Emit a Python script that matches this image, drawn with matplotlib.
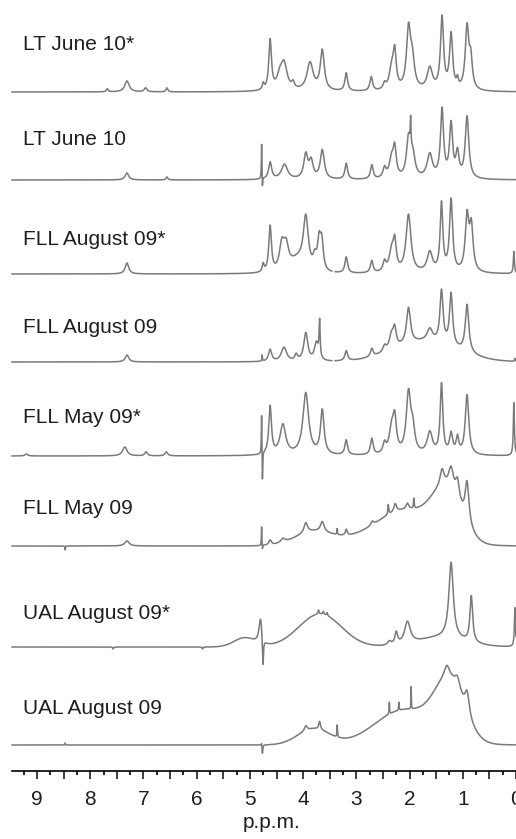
import numpy as np
import matplotlib
matplotlib.use('Agg')
import matplotlib.pyplot as plt
from matplotlib.ticker import MultipleLocator, FuncFormatter

plt.rcParams['font.family'] = ['Liberation Sans', 'DejaVu Sans']

# sample names, top to bottom
labels = ['LT June 10*', 'LT June 10', 'FLL August 09*', 'FLL August 09',
          'FLL May 09*', 'FLL May 09', 'UAL August 09*', 'UAL August 09']

# sharp lines: (ppm, height, half width)
peaks_lt_jun10s = [(7.68, 3, 0.02), (7.31, 11, 0.05), (6.96, 4, 0.03), (6.56, 4, 0.02),
                   (4.75, 6, 0.02), (4.62, 50, 0.03), (4.44, 12, 0.06), (4.36, 26, 0.07),
                   (4.19, 6, 0.03), (3.87, 28, 0.07), (3.64, 40, 0.045), (3.19, 18, 0.03),
                   (2.72, 14, 0.03), (2.47, 6, 0.03), (2.34, 20, 0.05), (2.28, 36, 0.035),
                   (2.02, 58, 0.045), (1.95, 28, 0.05), (1.62, 22, 0.06), (1.39, 72, 0.035),
                   (1.22, 55, 0.035), (1.10, 8, 0.02), (0.92, 62, 0.04), (0.85, 28, 0.035)]
peaks_lt_jun10 = [(7.31, 7, 0.04), (6.56, 3, 0.02), (4.78, 36, 0.006), (4.765, -12, 0.006),
                  (4.62, 17, 0.035), (4.35, 15, 0.07), (3.95, 24, 0.045), (3.85, 17, 0.045),
                  (3.64, 29, 0.045), (3.19, 16, 0.03), (2.71, 14, 0.03), (2.47, 10, 0.035),
                  (2.34, 18, 0.05), (2.28, 28, 0.035), (2.02, 38, 0.045), (1.98, 28, 0.008),
                  (1.94, 22, 0.05), (1.62, 24, 0.06), (1.39, 68, 0.035), (1.22, 53, 0.035),
                  (1.10, 24, 0.035), (0.92, 62, 0.04)]
peaks_fll_aug09s = [(7.31, 11, 0.04), (4.75, 8, 0.02), (4.62, 46, 0.03), (4.40, 26, 0.055),
                    (4.32, 22, 0.055), (3.95, 50, 0.055), (3.78, 12, 0.04), (3.70, 28, 0.035),
                    (3.65, 28, 0.035), (3.19, 16, 0.03), (2.71, 12, 0.03), (2.47, 10, 0.035),
                    (2.34, 20, 0.05), (2.28, 28, 0.035), (2.02, 58, 0.055), (1.62, 20, 0.06),
                    (1.40, 68, 0.03), (1.22, 72, 0.035), (0.92, 54, 0.04), (0.84, 44, 0.04),
                    (0.04, 22, 0.012)]
peaks_fll_aug09 = [(7.31, 7, 0.04), (4.77, 6, 0.006), (4.62, 12, 0.035), (4.36, 14, 0.06),
                   (4.13, 6, 0.03), (3.95, 28, 0.045), (3.75, 18, 0.045), (3.69, 36, 0.012),
                   (3.19, 10, 0.03), (2.71, 8, 0.03), (2.47, 6, 0.035), (2.34, 14, 0.05),
                   (2.28, 18, 0.035), (2.02, 36, 0.045), (1.62, 12, 0.06), (1.40, 52, 0.035),
                   (1.22, 52, 0.035), (0.92, 48, 0.04), (0.02, 3, 0.01)]
peaks_fll_may09s = [(9.20, 2, 0.03), (7.35, 9, 0.05), (6.95, 4, 0.03), (6.57, 4, 0.03),
                    (4.78, 42, 0.006), (4.765, -32, 0.006), (4.62, 48, 0.03), (4.38, 30, 0.065),
                    (3.95, 62, 0.065), (3.64, 44, 0.04), (3.19, 15, 0.03), (2.71, 16, 0.03),
                    (2.47, 10, 0.035), (2.34, 23, 0.05), (2.28, 33, 0.04), (2.02, 60, 0.05),
                    (1.94, 22, 0.045), (1.62, 22, 0.06), (1.40, 70, 0.03), (1.22, 20, 0.035),
                    (1.10, 16, 0.03), (0.92, 60, 0.04), (0.04, 53, 0.012)]
peaks_fll_may09 = [(8.47, -4, 0.004), (7.31, 5, 0.05), (4.78, 19, 0.005), (4.765, -5, 0.005),
                   (4.62, 5, 0.03), (4.38, 4, 0.05), (3.95, 10, 0.04), (3.64, 10, 0.04),
                   (3.36, 6, 0.006), (3.19, 6, 0.02), (2.70, 4, 0.03), (2.40, 10, 0.01),
                   (2.27, 8, 0.03), (2.04, 6, 0.03), (1.92, 10, 0.008), (1.39, 16, 0.045),
                   (1.22, 22, 0.055), (1.10, 20, 0.045), (0.92, 42, 0.045)]
peaks_ual_aug09s = [(7.57, -2, 0.01), (5.89, -2, 0.01), (4.80, 26, 0.035), (4.755, -30, 0.012),
                    (3.71, 4, 0.01), (3.62, 3, 0.01), (3.55, 3, 0.01), (2.38, 4, 0.04),
                    (2.25, 12, 0.03), (2.04, 22, 0.065), (1.22, 76, 0.05), (0.84, 46, 0.03),
                    (0.02, 39, 0.012)]
peaks_ual_aug09 = [(8.47, 2, 0.004), (4.78, 3, 0.008), (4.765, -9, 0.008), (3.95, 5, 0.03),
                   (3.69, 8, 0.02), (3.36, 12, 0.006), (2.38, 12, 0.006), (2.20, 8, 0.006),
                   (1.97, 22, 0.004), (1.30, 12, 0.06), (1.10, 12, 0.06), (0.92, 22, 0.05)]

# broad humps under the lines: (ppm, height, sigma)
humps_fll_aug09s = [(4.10, 12, 0.15)]
humps_fll_aug09 = [(1.70, 20, 0.6)]
humps_fll_may09 = [(1.30, 48, 0.28), (2.10, 35, 0.5), (3.80, 14, 0.35), (3.00, 5, 0.4)]
humps_ual_aug09s = [(5.10, 9, 0.2), (3.68, 33, 0.4), (1.40, 9, 0.45)]
humps_ual_aug09 = [(1.25, 55, 0.28), (2.10, 35, 0.55), (3.80, 16, 0.3)]

all_peaks = [peaks_lt_jun10s, peaks_lt_jun10, peaks_fll_aug09s, peaks_fll_aug09,
             peaks_fll_may09s, peaks_fll_may09, peaks_ual_aug09s, peaks_ual_aug09]
all_humps = [[], [], humps_fll_aug09s, humps_fll_aug09,
             [], humps_fll_may09, humps_ual_aug09s, humps_ual_aug09]
# cut-out region in two of the traces
gaps = [None, None, (3.40, 3.46), (3.40, 3.46), None, None, None, None]

# layout in figure pixels from the top
W, H = 516, 839
axis_y = 771
x_left = 12
label_base = [50, 145, 245, 333, 423, 514, 619, 714]
trace_base = [92, 180, 274, 362, 456, 546, 647, 745]

ppm = np.linspace(9.47, 0.0, 9000)


def spectrum(peaks, humps):
    y = np.zeros_like(ppm)
    for c, h, w in peaks:
        y += h * w ** 2 / ((ppm - c) ** 2 + w ** 2)
    for c, h, s in humps:
        y += h * np.exp(-(ppm - c) ** 2 / (2 * s ** 2))
    return y


fig = plt.figure(figsize=(W / 100, H / 100), dpi=100)
ax = fig.add_axes([x_left / W, (H - axis_y) / H, 1 - x_left / W, axis_y / H])
ax.set_xlim(9.47, 0.0)
ax.set_ylim(0, axis_y)

for i in range(len(labels)):
    y = spectrum(all_peaks[i], all_humps[i]) + (axis_y - trace_base[i])
    if gaps[i] is not None:
        y[(ppm > gaps[i][0]) & (ppm < gaps[i][1])] = np.nan
    ax.plot(ppm, y, color='#7a7a7a', lw=1.1, clip_on=False)
    fig.text(23 / W, 1 - label_base[i] / H, labels[i], fontsize=15,
             va='baseline', ha='left', color='#1e1e1e')

# axis styling
for s in ['top', 'left', 'right']:
    ax.spines[s].set_visible(False)
ax.spines['bottom'].set_linewidth(1.2)
ax.set_yticks([])
ax.xaxis.set_major_locator(MultipleLocator(0.5))
ax.xaxis.set_minor_locator(MultipleLocator(0.25))
ax.xaxis.set_major_formatter(FuncFormatter(
    lambda v, p: str(int(round(v))) if abs(v - round(v)) < 1e-6 else ''))
ax.tick_params(axis='x', which='major', direction='out', length=5.8, width=1.2,
               labelsize=15, pad=8, colors='#1e1e1e')
ax.tick_params(axis='x', which='minor', direction='out', length=3, width=1.2)
ax.set_xlabel('p.p.m.', fontsize=15, color='#1e1e1e')
ax.xaxis.label.set_va('top')
ax.xaxis.set_label_coords((272 - x_left) / (W - x_left), -42 / axis_y)

fig.savefig('out.png', dpi=100)
